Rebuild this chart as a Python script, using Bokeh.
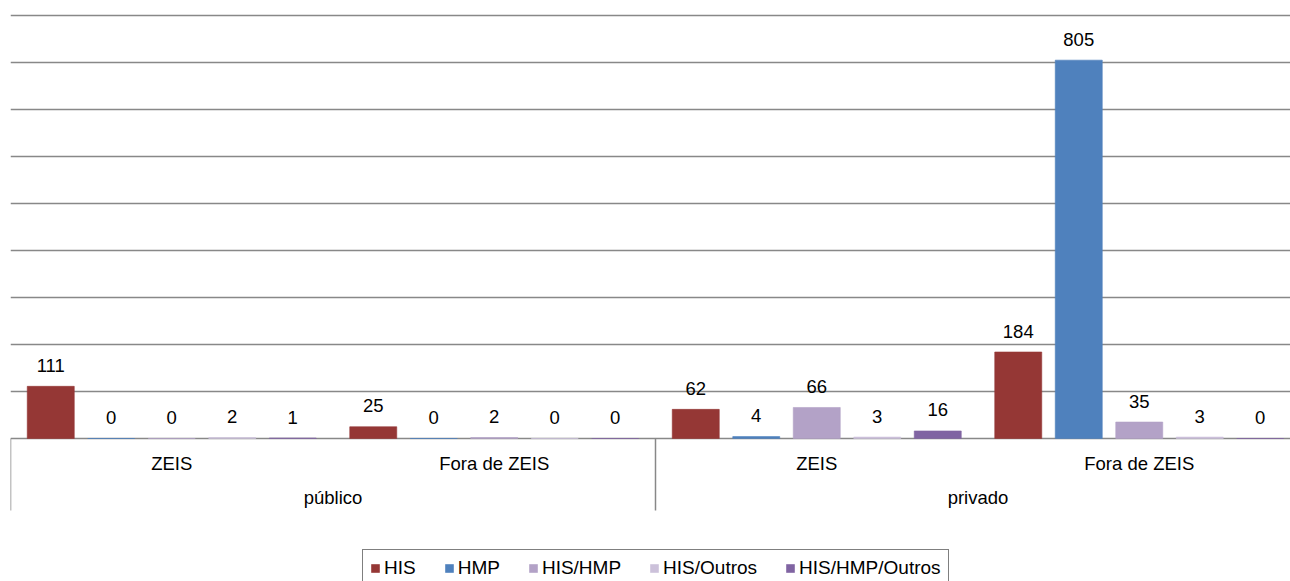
from bokeh.plotting import figure
from bokeh.models import Legend, LegendItem, ColumnDataSource, Range1d
from bokeh.core.properties import value
from bokeh.embed import file_html
from bokeh.resources import INLINE

groups = ["público", "privado"]
subgroups = ["ZEIS", "Fora de ZEIS"]
series = ["HIS", "HMP", "HIS/HMP", "HIS/Outros", "HIS/HMP/Outros"]
colors = ["#953735", "#4F81BD", "#B3A2C7", "#CCC1DA", "#8064A2"]

HIS = [111, 25, 62, 184]
HMP = [0, 0, 4, 805]
HIS_HMP = [0, 2, 66, 35]
HIS_Outros = [2, 0, 3, 3]
HIS_HMP_Outros = [1, 0, 16, 0]
values = [HIS, HMP, HIS_HMP, HIS_Outros, HIS_HMP_Outros]

grid_ticks = [0, 100, 200, 300, 400, 500, 600, 700, 800, 900]

FONT = "Liberation Sans"
GRID = "#888888"

# category slots: each (group, subgroup) pair is one unit wide on the x scale
cats = [(g, s) for g in groups for s in subgroups]
cat_centers = [i + 0.5 for i in range(len(cats))]
group_centers = [len(subgroups) * (j + 0.5) for j in range(len(groups))]
group_edges = [len(subgroups) * j for j in range(len(groups))]

# layout (pixels): frame left at 10, one category = 322.5px (plot runs past the window)
LEFT_PX, CAT_PX, WIDTH = 10, 322.5, 1290
TOP_PX, BASE_PX, BOTTOM_PX = 13, 438, 581
PX_PER_UNIT = (BASE_PX - 15) / 900
Y_MAX = (BASE_PX - TOP_PX) / PX_PER_UNIT
Y_MIN = -(BOTTOM_PX - BASE_PX) / PX_PER_UNIT
X_MAX = (WIDTH - LEFT_PX) / CAT_PX

p = figure(width=WIDTH, height=BOTTOM_PX, output_backend="svg", toolbar_location=None,
           x_range=Range1d(0, X_MAX), y_range=Range1d(Y_MIN, Y_MAX),
           min_border_left=LEFT_PX, min_border_right=0, min_border_top=TOP_PX,
           min_border_bottom=0)
p.outline_line_color = None
p.background_fill_color = "white"
p.border_fill_color = "white"

p.xaxis.visible = False
p.yaxis.visible = False
p.xgrid.grid_line_color = None
p.ygrid.ticker = grid_ticks
p.ygrid.grid_line_color = GRID
p.ygrid.grid_line_width = 1.5

# category axis drawn inside the frame below the baseline
sep_len = -72 / PX_PER_UNIT
p.segment(x0=group_edges, y0=[0] * len(group_edges),
          x1=group_edges, y1=[sep_len] * len(group_edges),
          line_color=GRID, line_width=1.5)
p.text(x=cat_centers, y=[0] * len(cats), text=[c[1] for c in cats],
       text_align="center", text_baseline="middle", y_offset=25,
       text_font=value(FONT), text_font_size="18.5px", text_color="black")
p.text(x=group_centers, y=[0] * len(groups), text=groups,
       text_align="center", text_baseline="middle", y_offset=59,
       text_font=value(FONT), text_font_size="18.5px", text_color="black")

step = 60.5 / CAT_PX
bw = 47 / CAT_PX
items = []
for i, (name, vals, col) in enumerate(zip(series, values, colors)):
    off = (i - 2) * step
    src = ColumnDataSource(dict(x=[c + off for c in cat_centers], y=vals,
                                t=[str(v) for v in vals]))
    r = p.vbar(x="x", top="y", width=bw, source=src,
               fill_color=col, line_color=col, line_alpha=0.6)
    p.text(x="x", y="y", text="t", source=src,
           text_align="center", text_baseline="alphabetic", y_offset=-21,
           text_font=value(FONT), text_font_size="18.5px", text_color="black")
    items.append(LegendItem(label=name, renderers=[r]))

legend = Legend(items=items, orientation="horizontal", location=(362 - LEFT_PX, -6),
                label_text_font=FONT, label_text_font_size="19px",
                label_text_color="black",
                glyph_width=10, glyph_height=10, label_standoff=4, spacing=28,
                border_line_color="black", border_line_width=1.5,
                padding=7, margin=0, background_fill_alpha=1)
p.add_layout(legend)

open("out.html", "w").write(file_html(p, INLINE))
